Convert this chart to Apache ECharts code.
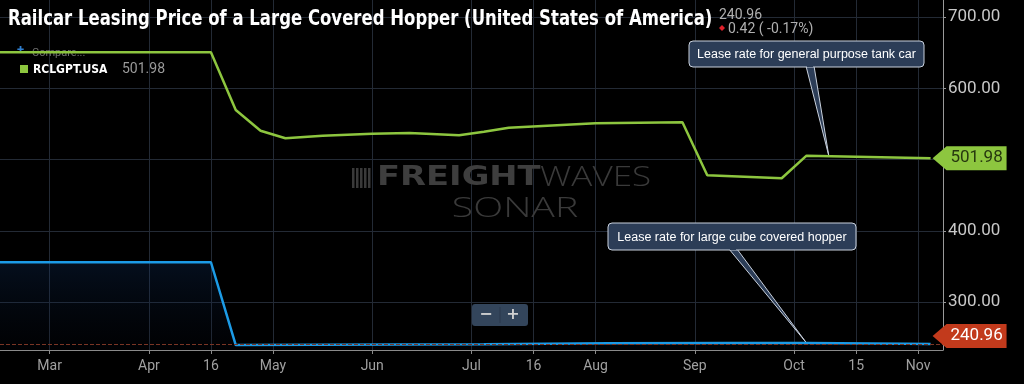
<!DOCTYPE html>
<html><head><meta charset="utf-8">
<script src="https://cdn.jsdelivr.net/npm/echarts@6/dist/echarts.min.js"></script>
<style>html,body{margin:0;padding:0;background:#000;}#c{width:1024px;height:384px;}</style>
</head><body><div id="c"></div>
<script>
// x axis positions (half-week units from 1 Mar) and tick labels
const tickPos = [0, 8, 13, 18, 26, 34, 39, 44, 52, 60, 65, 70];
const tickLabels = ['Mar', 'Apr', '16', 'May', 'Jun', 'Jul', '16', 'Aug', 'Sep', 'Oct', '15', 'Nov'];
const yTicks = [300, 400, 500, 600, 700];

// general purpose tank car (RCLGPT.USA)
const tankX = [-4, 13, 15, 17, 19, 22, 26, 29, 33, 35, 37, 44, 51, 53, 59, 61, 71];
const tankY = [650.6, 650.6, 569.6, 540.5, 529.8, 533.5, 536.3, 537.3, 534.1, 539.0, 544.7, 550.9, 552.3, 477.9, 473.7, 505.4, 501.98];

// large cube covered hopper
const hopperX = [-4, 13, 15, 35, 45, 55, 61, 69, 71];
const hopperY = [355.8, 355.8, 239.5, 240.5, 242.0, 242.5, 242.5, 241.38, 240.96];

const title = 'Railcar Leasing Price of a Large Covered Hopper (United States of America)';
const legendName = 'RCLGPT.USA';
const lastTank = '501.98';
const lastHopper = '240.96';
const change = '0.42 ( -0.17%)';
const note1 = 'Lease rate for general purpose tank car';
const note2 = 'Lease rate for large cube covered hopper';

const GREEN = '#8dc63f', BLUE = '#1c9be6', GRIDC = '#232a35';
const chart = echarts.init(document.getElementById('c'));
const zip = (a, b) => a.map((v, i) => [v, b[i]]);

chart.setOption({
  backgroundColor: '#000',
  animation: false,
  grid: { left: 0, right: 81, top: 0, bottom: 34 },
  xAxis: {
    type: 'value', min: -4, max: 72,
    axisLine: { show: true, onZero: false, lineStyle: { color: '#8a8a8a', width: 1 } },
    axisTick: { show: true, customValues: tickPos, length: 4, lineStyle: { color: '#8a8a8a' } },
    axisLabel: { customValues: tickPos, color: '#a0a0a0', fontSize: 14, margin: 9, fontFamily: 'Roboto',
      formatter: v => tickLabels[tickPos.indexOf(v)] },
    splitLine: { show: true, lineStyle: { color: GRIDC, width: 1 } }
  },
  yAxis: {
    type: 'value', position: 'right', min: 232.6, max: 724,
    axisLine: { show: true, onZero: false, lineStyle: { color: '#9a9a9a', width: 1 } },
    axisTick: { show: true, customValues: yTicks, length: 3, lineStyle: { color: '#9a9a9a' } },
    axisLabel: { customValues: yTicks, color: '#c8c8c8', fontSize: 17, margin: 5, fontFamily: 'Roboto',
      formatter: v => v.toFixed(2) },
    splitLine: { show: true, lineStyle: { color: GRIDC, width: 1 } }
  },
  series: [
    {
      type: 'line', data: zip(hopperX, hopperY), symbol: 'none',
      lineStyle: { color: BLUE, width: 2.5 },
      areaStyle: { origin: 'start', color: new echarts.graphic.LinearGradient(0, 0, 0, 1, [
        { offset: 0, color: 'rgba(20,60,120,0.35)' }, { offset: 1, color: 'rgba(5,10,25,0.2)' }]) },
      markLine: { silent: true, symbol: 'none', label: { show: false },
        lineStyle: { color: '#7a3525', type: 'dashed', width: 1 },
        data: [{ yAxis: hopperY[hopperY.length - 1] }] },
      z: 3
    },
    {
      type: 'line', data: zip(tankX, tankY), symbol: 'none',
      lineStyle: { color: GREEN, width: 2.5 }, z: 4
    }
  ]
});

const px = (x, y) => chart.convertToPixel({ gridIndex: 0 }, [x, y]);
const gT = px(tankX[tankX.length - 1], tankY[tankY.length - 1]);
const gH = px(hopperX[hopperX.length - 1], hopperY[hopperY.length - 1]);
const hy = Math.min(gH[1], 336);
const tip1 = px(62.8, 504.9);
const tip2 = px(61, 242.5);

function tag(tipX, cy, fill, txtColor, label) {
  return { type: 'group', z: 100, children: [
    { type: 'polygon', z: 100, shape: { points: [[tipX, cy], [tipX + 14, cy - 12], [tipX + 74, cy - 12], [tipX + 74, cy + 12], [tipX + 14, cy + 12]] },
      style: { fill: fill } },
    { type: 'text', z: 101, x: tipX + 44, y: cy, style: { text: label, fill: txtColor, font: '17px Roboto', align: 'center', verticalAlign: 'middle' } }
  ] };
}
function callout(bx, by, bw, bh, baseX, tip, text) {
  return { type: 'group', z: 50, children: [
    { type: 'polygon', shape: { points: [[baseX, by + bh - 1], [baseX + 8, by + bh - 1], tip] },
      style: { fill: '#2c3d57', stroke: '#c9d1dd', lineWidth: 1 } },
    { type: 'rect', shape: { x: bx, y: by, width: bw, height: bh, r: 4 },
      style: { fill: '#2c3d57', stroke: '#c9d1dd', lineWidth: 1 } },
    { type: 'rect', shape: { x: baseX + 1, y: by + bh - 2, width: 6, height: 2 }, style: { fill: '#2c3d57' } },
    { type: 'text', x: bx + bw / 2, y: by + bh / 2 + 1, style: { text: text, fill: '#ffffff', font: '12.5px "Liberation Sans"', align: 'center', verticalAlign: 'middle' } }
  ] };
}

chart.setOption({
  graphic: [
    // watermark
    { type: 'group', silent: true, children: [
      ...[0, 4, 8, 12, 16].map(d => ({ type: 'rect', shape: { x: 352 + d, y: 168, width: 2.5, height: 20 }, style: { fill: '#3a3a3a' } })),
      { type: 'text', x: 377, y: 178, scaleX: 1.25, style: { text: 'FREIGHT', fill: '#3e3e3e', font: '900 27px "DejaVu Sans"', verticalAlign: 'middle' } },
      { type: 'text', x: 540, y: 178, scaleX: 1.3, style: { text: 'WAVES', fill: '#3a3a3a', font: '200 27px "Open Sans"', verticalAlign: 'middle' } },
      { type: 'text', x: 515, y: 209, scaleX: 1.45, style: { text: 'SONAR', fill: '#3a3a3a', font: '200 27px "Open Sans"', align: 'center', verticalAlign: 'middle' } }
    ] },
    // title
    { type: 'text', x: 8, y: 20, scaleX: 0.895, style: { text: title, fill: '#ffffff', font: 'bold 20.5px "DejaVu Sans Condensed", sans-serif', verticalAlign: 'middle' } },
    { type: 'text', x: 719, y: 15, style: { text: lastHopper, fill: '#b0b0b0', font: '14px Roboto', verticalAlign: 'middle' } },
    { type: 'polygon', shape: { points: [[722, 25], [725, 28], [722, 31], [719, 28]] }, style: { fill: '#e0202a' } },
    { type: 'text', x: 728, y: 29, style: { text: change, fill: '#b0b0b0', font: '14px Roboto', verticalAlign: 'middle' } },
    // legend
    { type: 'text', x: 17, y: 51, style: { text: '+', fill: '#2f7fd0', font: 'bold 13px Roboto', verticalAlign: 'middle' } },
    { type: 'text', x: 32, y: 53, style: { text: 'Compare...', fill: '#6f6f6f', font: '11px Roboto', verticalAlign: 'middle' } },
    { type: 'rect', shape: { x: 20, y: 65, width: 8, height: 8 }, style: { fill: GREEN } },
    { type: 'text', x: 33, y: 69.5, style: { text: legendName, fill: '#ffffff', font: 'bold 12px "DejaVu Sans Condensed", Roboto', verticalAlign: 'middle' } },
    { type: 'text', x: 122, y: 69.5, style: { text: lastTank, fill: '#9a9a9a', font: '14px Roboto', verticalAlign: 'middle' } },
    // callouts
    callout(689, 41, 235, 26, 806, tip1, note1),
    callout(608, 223, 248, 27, 729, tip2, note2),
    // zoom control
    { type: 'rect', shape: { x: 472, y: 304, width: 56, height: 22, r: 3 }, style: { fill: '#33455b' } },
    { type: 'rect', shape: { x: 499.5, y: 307, width: 1, height: 16 }, style: { fill: '#2a394c' } },
    { type: 'text', x: 486, y: 315, style: { text: '−', fill: '#d0d0d0', font: 'bold 16px "DejaVu Sans"', align: 'center', verticalAlign: 'middle' } },
    { type: 'text', x: 513, y: 315, style: { text: '+', fill: '#d0d0d0', font: 'bold 16px "DejaVu Sans"', align: 'center', verticalAlign: 'middle' } },
    // value tags
    tag(gT[0] + 2, gT[1], GREEN, '#27380f', lastTank),
    tag(gH[0] + 2, hy, '#c23a1c', '#ffffff', lastHopper)
  ]
});
</script></body></html>
